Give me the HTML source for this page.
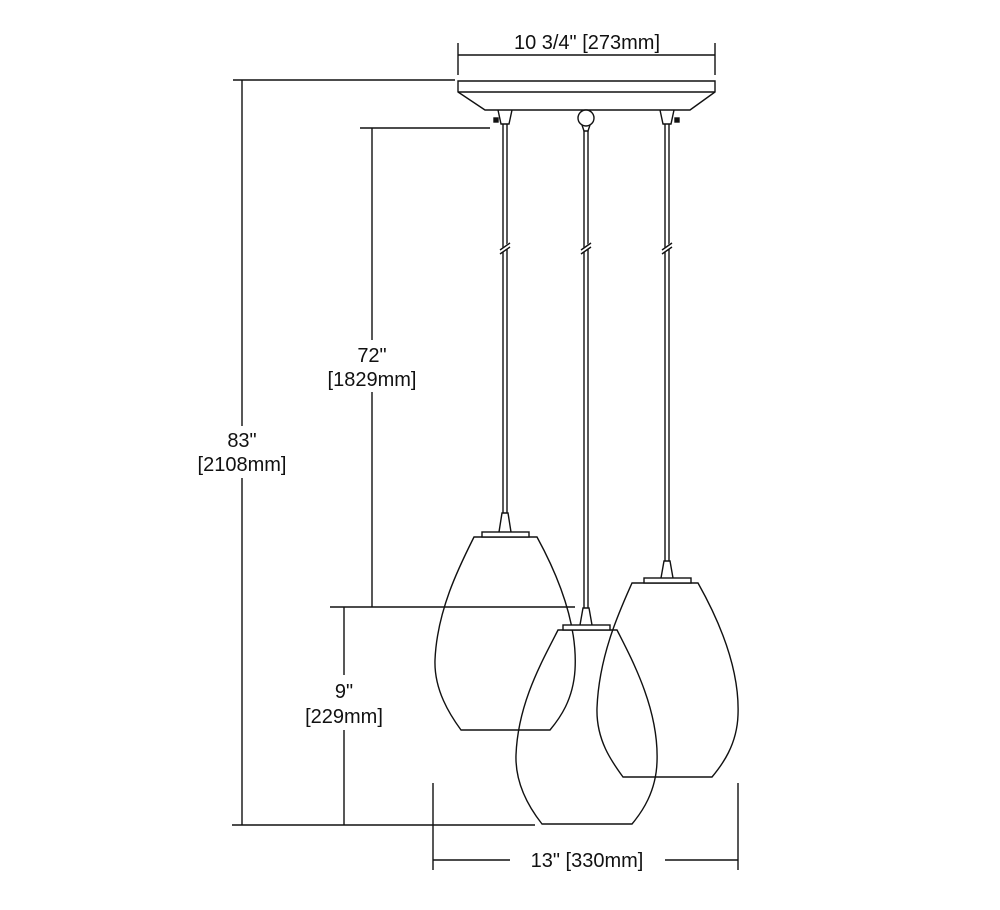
<!DOCTYPE html>
<html><head><meta charset="utf-8"><style>
html,body{margin:0;padding:0;background:#fff;}
svg{display:block;}
text{font-family:"Liberation Sans",sans-serif;font-size:20px;fill:#111;text-anchor:middle;}
</style></head><body>
<svg width="1000" height="910" viewBox="0 0 1000 910" xmlns="http://www.w3.org/2000/svg">
<g stroke="#111" stroke-width="1.4" fill="none">
<line x1="458" y1="43" x2="458" y2="75"/>
<line x1="715" y1="43" x2="715" y2="75"/>
<line x1="458" y1="55" x2="715" y2="55"/>
<path d="M458 81 H715 V92 L690 110 H485 L458 92 Z" fill="#fff"/>
<line x1="458" y1="92" x2="715" y2="92"/>
<path d="M498 110 L501 124 H509 L512 110"/>
<path d="M660 110 L663 124 H671 L674 110"/>
<circle cx="586" cy="118" r="8" fill="#fff"/>
<path d="M582 125 L584 131 H588 L590 125"/>
<rect x="494" y="118" width="4" height="4" fill="#111"/>
<rect x="675" y="118" width="4" height="4" fill="#111"/>
<line x1="503" y1="124" x2="503" y2="513"/><line x1="507" y1="124" x2="507" y2="513"/>
<line x1="584" y1="131" x2="584" y2="608"/><line x1="588" y1="131" x2="588" y2="608"/>
<line x1="665" y1="124" x2="665" y2="561"/><line x1="669" y1="124" x2="669" y2="561"/>
<line x1="500" y1="252" x2="510" y2="244" stroke="#fff" stroke-width="4"/>
<line x1="500" y1="250" x2="510" y2="243"/><line x1="500" y1="254" x2="510" y2="247"/>
<line x1="581" y1="252" x2="591" y2="244" stroke="#fff" stroke-width="4"/>
<line x1="581" y1="250" x2="591" y2="243"/><line x1="581" y1="254" x2="591" y2="247"/>
<line x1="662" y1="252" x2="672" y2="244" stroke="#fff" stroke-width="4"/>
<line x1="662" y1="250" x2="672" y2="243"/><line x1="662" y1="254" x2="672" y2="247"/>

<path d="M474 537 H537 C555 570 578 620 575 670 C573 700 560 718 550 730 H461 C450 715 434 690 435 660 C437 610 460 565 474 537 Z" fill="none"/>
<rect x="482" y="532" width="47" height="5" fill="#fff"/>
<path d="M499 532 L502 513 H508 L511 532"/>

<path d="M632 583 H698 C716 615 740 665 738 715 C737 745 722 765 712 777 H623 C612 762 596 740 597 708 C599 655 620 610 632 583 Z" fill="#fff"/>
<rect x="644" y="578" width="47" height="5" fill="#fff"/>
<path d="M661 578 L664 561 H670 L673 578"/>

<path d="M558 630 H617 C635 665 659 712 657 762 C656 792 642 812 632 824 H542 C531 810 515 786 516 755 C518 702 543 660 558 630 Z" fill="none"/>
<rect x="563" y="625" width="47" height="5" fill="#fff"/>
<path d="M580 625 L583 608 H589 L592 625"/>

<line x1="233" y1="80" x2="455" y2="80"/>
<line x1="232" y1="825" x2="535" y2="825"/>
<line x1="242" y1="80" x2="242" y2="426"/>
<line x1="242" y1="478" x2="242" y2="825"/>
<line x1="360" y1="128" x2="490" y2="128"/>
<line x1="330" y1="607" x2="575" y2="607"/>
<line x1="372" y1="128" x2="372" y2="340"/>
<line x1="372" y1="392" x2="372" y2="607"/>
<line x1="344" y1="607" x2="344" y2="675"/>
<line x1="344" y1="730" x2="344" y2="825"/>
<line x1="433" y1="783" x2="433" y2="870"/>
<line x1="738" y1="783" x2="738" y2="870"/>
<line x1="433" y1="860" x2="510" y2="860"/>
<line x1="665" y1="860" x2="738" y2="860"/>
</g>
<text x="587" y="49">10 3/4" [273mm]</text>
<text x="242" y="447">83"</text>
<text x="242" y="471">[2108mm]</text>
<text x="372" y="362">72"</text>
<text x="372" y="386">[1829mm]</text>
<text x="344" y="698">9"</text>
<text x="344" y="723">[229mm]</text>
<text x="587" y="867">13" [330mm]</text>
</svg>
</body></html>
